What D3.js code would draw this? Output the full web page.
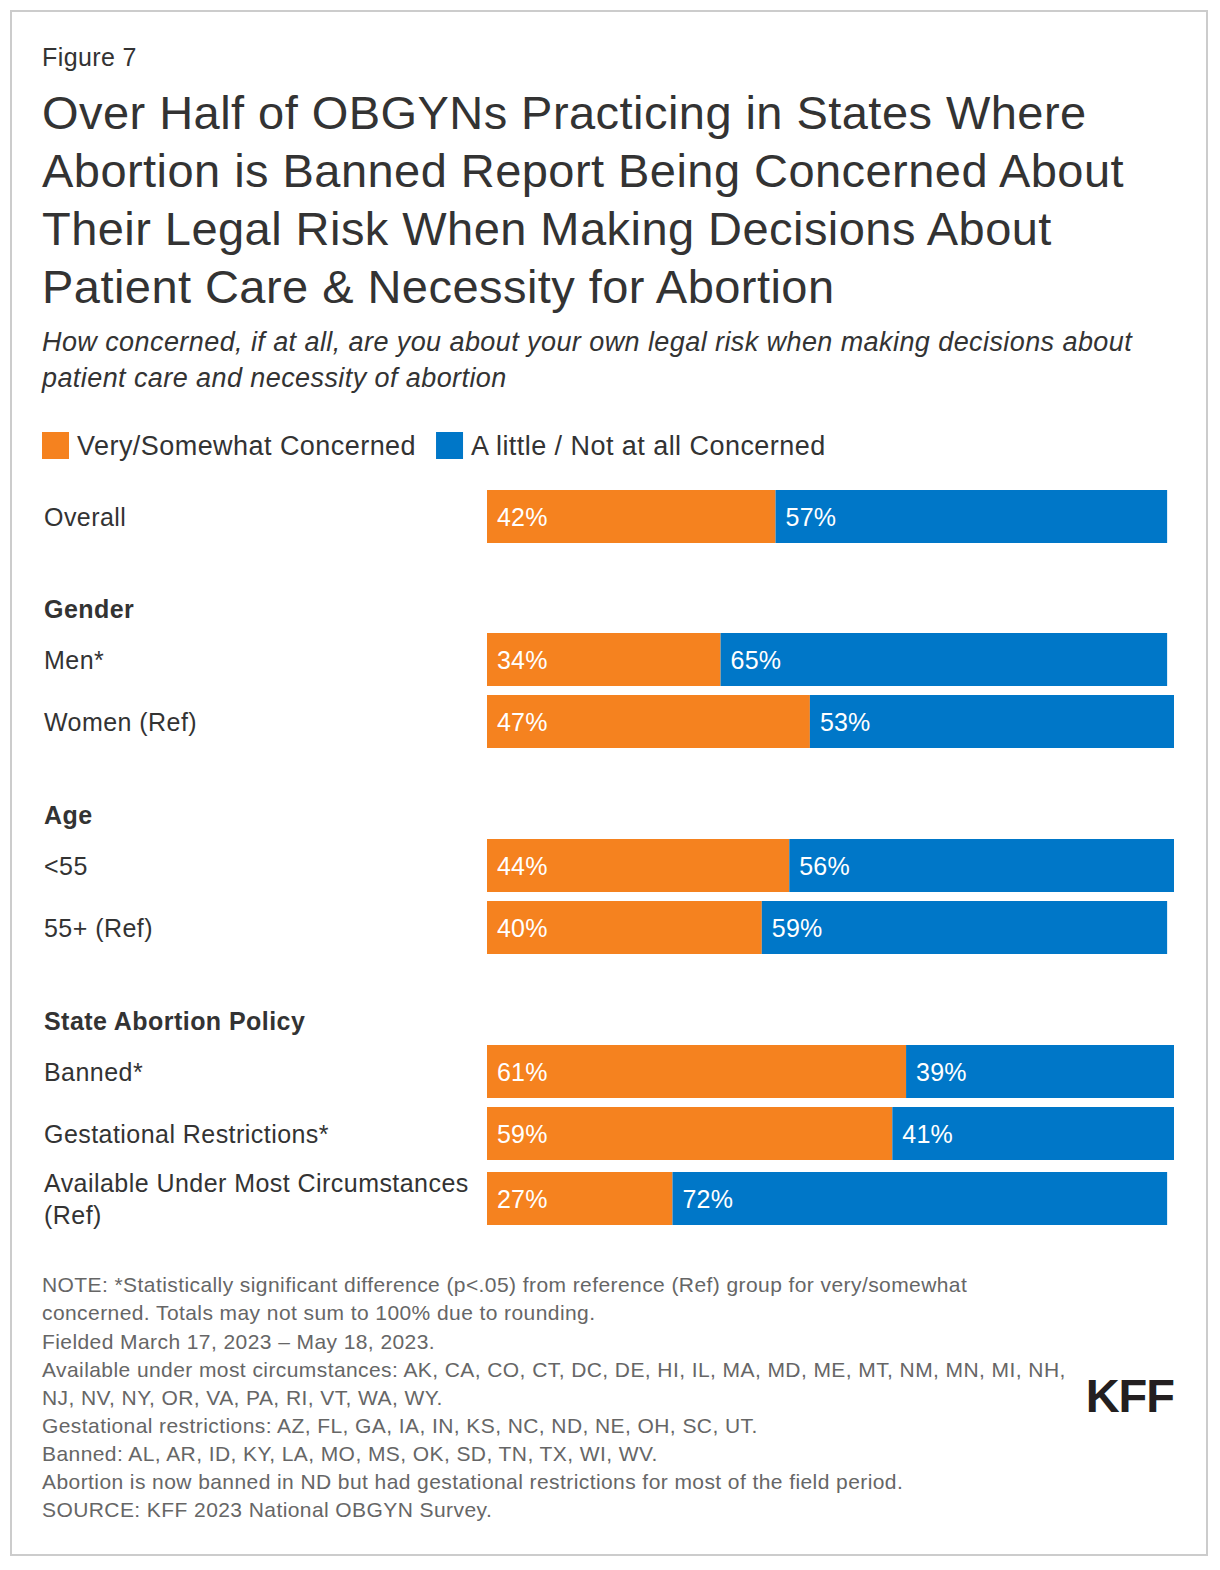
<!DOCTYPE html>
<html><head><meta charset="utf-8">
<script src="https://cdn.jsdelivr.net/npm/d3@7"></script>
<style>body{margin:0;background:#fff;}svg{display:block;font-family:"Liberation Sans",Arial,sans-serif;}</style>
</head><body><svg id="c" width="1220" height="1570"></svg>
<script>
const categories = ["Overall","Men*","Women (Ref)","<55","55+ (Ref)","Banned*","Gestational Restrictions*","Available Under Most Circumstances|(Ref)"];
const groups = [null,"Gender","Gender","Age","Age","State Abortion Policy","State Abortion Policy","State Abortion Policy"];
const concerned = [42,34,47,44,40,61,59,27];
const notConcerned = [57,65,53,56,59,39,41,72];
const seriesNames = ["Very/Somewhat Concerned","A little / Not at all Concerned"];
const colors = ["#F5821F","#0077C8"];
const titleLines = ["Over Half of OBGYNs Practicing in States Where","Abortion is Banned Report Being Concerned About","Their Legal Risk When Making Decisions About","Patient Care & Necessity for Abortion"];
const subtitleLines = ["How concerned, if at all, are you about your own legal risk when making decisions about","patient care and necessity of abortion"];
const noteLines = ["NOTE: *Statistically significant difference (p<.05) from reference (Ref) group for very/somewhat","concerned. Totals may not sum to 100% due to rounding.","Fielded March 17, 2023 – May 18, 2023.","Available under most circumstances: AK, CA, CO, CT, DC, DE, HI, IL, MA, MD, ME, MT, NM, MN, MI, NH,","NJ, NV, NY, OR, VA, PA, RI, VT, WA, WY.","Gestational restrictions: AZ, FL, GA, IA, IN, KS, NC, ND, NE, OH, SC, UT.","Banned: AL, AR, ID, KY, LA, MO, MS, OK, SD, TN, TX, WI, WV.","Abortion is now banned in ND but had gestational restrictions for most of the field period.","SOURCE: KFF 2023 National OBGYN Survey."];

const svg = d3.select("#c");
svg.append("rect").attr("x",11).attr("y",11).attr("width",1196).attr("height",1544).attr("fill","#fff").attr("stroke","#ccc").attr("stroke-width",2);

svg.append("text").attr("x",42).attr("y",66).attr("font-size",25).attr("letter-spacing",0.4).attr("fill","#333").text("Figure 7");
titleLines.forEach((t,i)=>svg.append("text").attr("x",42).attr("y",129+i*58).attr("font-size",47).attr("letter-spacing",0.45).attr("fill","#333").text(t));
subtitleLines.forEach((t,i)=>svg.append("text").attr("x",42).attr("y",351+i*36).attr("font-size",27).attr("letter-spacing",0.42).attr("font-style","italic").attr("fill","#333").text(t));

// legend
const leg = svg.append("g");
let lx = 42;
seriesNames.forEach((n,i)=>{
  leg.append("rect").attr("x",lx).attr("y",432).attr("width",27).attr("height",27).attr("fill",colors[i]);
  const t = leg.append("text").attr("x",lx+35).attr("y",455).attr("font-size",27).attr("letter-spacing",0.45).attr("fill","#333").text(n);
  lx += 35 + t.node().getComputedTextLength() + 20;
});

// row layout
const rowY = [490,633,695,839,901,1045,1107,1172];
const bandH = 53;
const x = d3.scaleLinear().domain([0,100]).range([487,1174]);

const rows = svg.append("g");
categories.forEach((c,i)=>{
  const y0 = rowY[i];
  const g = rows.append("g");
  const a = concerned[i], b = notConcerned[i];
  g.append("rect").attr("x",x(0)).attr("y",y0).attr("width",x(a)-x(0)).attr("height",bandH).attr("fill",colors[0]);
  g.append("rect").attr("x",x(a)).attr("y",y0).attr("width",x(a+b)-x(a)).attr("height",bandH).attr("fill",colors[1]);
  g.append("text").attr("x",x(0)+10).attr("y",y0+bandH/2+1).attr("dy","0.35em").attr("font-size",25).attr("letter-spacing",0.2).attr("fill","#fff").text(a+"%");
  g.append("text").attr("x",x(a)+10).attr("y",y0+bandH/2+1).attr("dy","0.35em").attr("font-size",25).attr("letter-spacing",0.2).attr("fill","#fff").text(b+"%");
  const parts = c.split("|");
  parts.forEach((p,j)=>{
    g.append("text").attr("x",44).attr("y",y0+bandH/2+1+(j-(parts.length-1)/2)*32).attr("dy","0.35em").attr("font-size",25).attr("letter-spacing",0.45).attr("fill","#333").text(p);
  });
  if (groups[i] && groups[i]!==groups[i-1]) {
    svg.append("text").attr("x",44).attr("y",y0-24).attr("dy","0.35em").attr("font-size",25).attr("letter-spacing",0.45).attr("font-weight","bold").attr("fill","#333").text(groups[i]);
  }
});

noteLines.forEach((t,i)=>svg.append("text").attr("x",42).attr("y",1285+i*28.1).attr("dy","0.35em").attr("font-size",21).attr("letter-spacing",0.42).attr("fill","#666").text(t));

svg.append("text").attr("x",1174).attr("y",1412).attr("text-anchor","end").attr("font-size",47).attr("font-weight","bold").attr("fill","#231f20").attr("letter-spacing",-1).text("KFF");
</script></body></html>
